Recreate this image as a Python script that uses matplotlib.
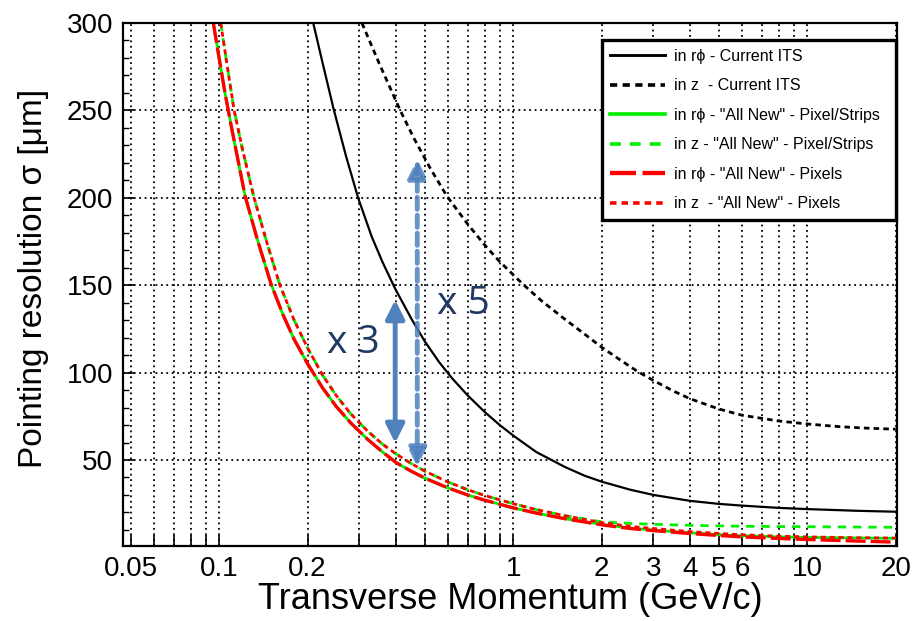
import numpy as np
import matplotlib.pyplot as plt
from matplotlib.ticker import FixedLocator, NullLocator, MultipleLocator

plt.rcParams['font.family'] = ['Liberation Sans', 'DejaVu Sans']

# Current ITS, r-phi
pt_its_rphi = [0.209, 0.225, 0.245, 0.27, 0.297, 0.33, 0.36, 0.397, 0.45, 0.5, 0.56, 0.618, 0.7, 0.8, 0.9,
               1.0, 1.2, 1.5, 1.75, 2, 2.5, 3, 4, 5, 6, 8, 10, 15, 20]
sig_its_rphi = [300, 277, 251, 224, 200, 178, 163, 148, 131, 118, 106, 97, 87, 77.5, 70,
                64, 54.5, 46, 41, 37.6, 33, 30, 26.6, 24.9, 23.9, 22.6, 21.9, 20.9, 20.4]

# Current ITS, z
pt_its_z = [0.306, 0.35, 0.413, 0.46, 0.522, 0.595, 0.7, 0.8, 0.9, 1.0, 1.08, 1.25, 1.5, 1.75, 2,
            2.3, 2.64, 3, 3.5, 4, 5, 6, 8, 10, 13, 16, 20]
sig_its_z = [300, 277, 250, 234, 217, 201, 185, 173, 163.5, 156, 150.5, 141, 130.5, 122, 114.5,
             107.5, 100.8, 95.5, 89.5, 85, 79.2, 75.6, 72.3, 70.6, 69, 68.2, 67.6]

# "All New" upgrade, r-phi
pt_new = [0.0956, 0.1, 0.105, 0.11, 0.1226, 0.135, 0.15, 0.165, 0.18, 0.2, 0.225, 0.25, 0.28, 0.32, 0.36,
          0.4, 0.45, 0.5, 0.6, 0.7, 0.8, 1.0, 1.2, 1.5, 2, 2.5, 3, 4, 5, 6, 8, 10, 15, 20]
sig_strips_rphi = [300, 280, 259, 241, 201, 176, 151, 133, 119, 105, 91.2, 80.7, 71.3, 61.8, 54.5,
                   48.5, 43.6, 39.7, 34, 30, 27, 22.6, 19.6, 16.4, 13.2, 11, 9.9, 8.3, 7.3, 6.7, 6.0, 5.7, 5.4, 5.2]
sig_pix_rphi = [300, 280, 259, 241, 201, 176, 151, 133, 119, 105, 91.2, 80.7, 71.3, 61.8, 54.5,
                48.5, 43.6, 39.7, 34, 30, 27, 22.6, 19.6, 16.4, 12.9, 10.8, 9.6, 7.9, 6.8, 6.0, 5.1, 4.5, 3.6, 3.0]

# "All New" upgrade, z
pt_new_z = [0.1013, 0.106, 0.1125, 0.12, 0.1315, 0.145, 0.161, 0.18, 0.2, 0.225, 0.25, 0.28, 0.32, 0.36,
            0.4, 0.45, 0.5, 0.6, 0.7, 0.8, 1.0, 1.2, 1.5, 2, 2.5, 3, 4, 5, 6, 8, 10, 15, 20]
sig_strips_z = [300, 278, 250, 228, 200, 175, 150, 130, 114, 98.5, 87, 76.5, 66.5, 59,
                53.4, 48, 43.7, 37.4, 33, 29.7, 25, 21.6, 18.1, 14.6, 13.7, 13.2, 12.6, 12.3, 12.1, 11.9, 11.8, 11.6, 11.5]
sig_pix_z = [300, 278, 250, 228, 200, 175, 150, 130, 114, 98.5, 87, 76.5, 66.5, 59,
             53.4, 48, 43.7, 37.4, 33, 29.7, 25, 21.6, 18.1, 14.2, 12, 10.8, 9, 8, 7.2, 6.4, 6.0, 5.5, 5.3]

labels = ['in r\u03d5 - Current ITS',
          'in z  - Current ITS',
          'in r\u03d5 - "All New" - Pixel/Strips',
          'in z - "All New" - Pixel/Strips',
          'in r\u03d5 - "All New" - Pixels',
          'in z  - "All New" - Pixels']

xticks_lab = [0.05, 0.1, 0.2, 1, 2, 3, 4, 5, 6, 10, 20]

fig = plt.figure(figsize=(9.14, 6.21), dpi=100)
ax = fig.add_axes([0.1342, 0.1208, 0.8472, 0.8422])

h1, = ax.plot(pt_its_rphi, sig_its_rphi, color='black', lw=1.6, label=labels[0])
h2, = ax.plot(pt_its_z, sig_its_z, color='black', lw=2, linestyle=(0, (2, 1.5)), label=labels[1])
h3, = ax.plot(pt_new, sig_strips_rphi, color='#00ee00', lw=2, label=labels[2])
h4, = ax.plot(pt_new_z, sig_strips_z, color='#00ee00', lw=2, linestyle=(0, (3, 2.5)), label=labels[3])
h5, = ax.plot(pt_new, sig_pix_rphi, color='red', lw=2.4, linestyle=(0, (6, 1.5)), label=labels[4])
h6, = ax.plot(pt_new_z, sig_pix_z, color='red', lw=2, linestyle=(0, (1.8, 1.4)), label=labels[5])

ax.set_xscale('log')
ax.set_xlim(0.047, 20.2)
ax.set_ylim(0.8, 300)

grid_x = [m * 10.0**d for d in (-2, -1, 0, 1) for m in range(1, 10)]
grid_x = [v for v in grid_x if 0.05 - 1e-9 <= v <= 20 + 1e-9]
ax.xaxis.set_major_locator(FixedLocator(grid_x))
ax.xaxis.set_minor_locator(NullLocator())
ax.set_xticklabels([('%g' % v) if any(abs(v - t) < 1e-9 for t in xticks_lab) else '' for v in grid_x])

ax.yaxis.set_major_locator(MultipleLocator(50))
ax.yaxis.set_minor_locator(MultipleLocator(10))

ax.grid(True, which='major', color='black', linestyle=(0, (1, 2)), lw=1.3)
ax.tick_params(axis='both', which='major', direction='in', length=8, width=1.2, labelsize=20, pad=7)
ax.tick_params(axis='y', which='minor', direction='in', length=4, width=1)
for s in ax.spines.values():
    s.set_linewidth(1.6)

ax.set_xlabel('Transverse Momentum (GeV/c)', fontsize=26, labelpad=0)
ax.set_ylabel('Pointing resolution \u03c3 [\u03bcm]', fontsize=24)
ax.yaxis.set_label_coords(-0.095, 0.512)

leg = ax.legend(handles=[h1, h2, h3, h4, h5, h6], loc='upper left',
                bbox_to_anchor=(0.6186, 0.633, 0.38, 0.3345), mode='expand', borderaxespad=0,
                fontsize=11.5, handlelength=3.4, handletextpad=0.55, labelspacing=0.91,
                borderpad=0.55, fancybox=False, framealpha=1, edgecolor='black')
leg.get_frame().set_linewidth(2.4)
for line in leg.get_lines():
    line.set_linewidth(line.get_linewidth() * 1.3)

# ratio arrows and labels
arrow_col = '#4f81bd'
ax.annotate('', xy=(0.397, 141.6), xytext=(0.397, 59.7),
            arrowprops=dict(arrowstyle='<|-|>', color=arrow_col, lw=3.5, mutation_scale=28, shrinkA=0, shrinkB=0))
ax.annotate('', xy=(0.472, 222), xytext=(0.472, 46.2),
            arrowprops=dict(arrowstyle='<|-|>', color=arrow_col, alpha=0.85, lw=3.5, linestyle=(0, (2.5, 1.2)),
                            mutation_scale=28, shrinkA=0, shrinkB=0))
ax.text(0.286, 117, 'x 3', fontsize=28, color='#1f3864', ha='center', va='center', family=['Open Sans', 'DejaVu Sans'])
ax.text(0.676, 139, 'x 5', fontsize=28, color='#1f3864', ha='center', va='center', family=['Open Sans', 'DejaVu Sans'])

fig.savefig('out.png', dpi=100)
